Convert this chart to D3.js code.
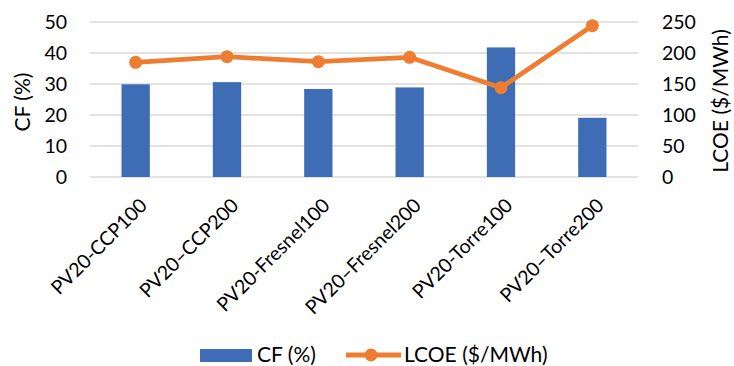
<!DOCTYPE html>
<html><head><meta charset="utf-8">
<script src="https://cdn.jsdelivr.net/npm/d3@7"></script>
<style>body{margin:0;background:#fff}svg{display:block}text{font-family:Lato,"Open Sans",sans-serif;fill:#000}</style>
</head><body><svg id="c" width="734" height="366"></svg>
<script>
const categories = ["PV20-CCP100","PV20\u2013CCP200","PV20-Fresnel100","PV20\u2013Fresnel200","PV20-Torre100","PV20\u2013Torre200"];
const cfValues = [29.9, 30.6, 28.4, 28.9, 41.8, 19.1];
const lcoeValues = [185, 194, 186, 193, 144, 244];
const leftTicks = [0,10,20,30,40,50];
const rightTicks = [0,50,100,150,200,250];

const svg = d3.select("#c");
const L=90, R=638, T=22, B=177;
const x = d3.scaleBand().domain(categories).range([L,R]).paddingInner(0.69).paddingOuter(0.345);
const yL = d3.scaleLinear().domain([0,50]).range([B,T]);
const yR = d3.scaleLinear().domain([0,250]).range([B,T]);
const xc = d => x(d)+x.bandwidth()/2;

svg.append("g").selectAll("line").data(leftTicks).join("line")
  .attr("x1",L).attr("x2",R).attr("y1",d=>yL(d)).attr("y2",d=>yL(d))
  .attr("stroke","#d9d9d9").attr("stroke-width",1.3);

svg.append("g").selectAll("rect").data(categories).join("rect")
  .attr("x",d=>x(d)).attr("width",x.bandwidth())
  .attr("y",(d,i)=>yL(cfValues[i])).attr("height",(d,i)=>B-yL(cfValues[i]))
  .attr("fill","#3e6db6");

const line = d3.line().x((d,i)=>xc(categories[i])).y(d=>yR(d));
svg.append("path").datum(lcoeValues).attr("d",line).attr("fill","none")
  .attr("stroke","#ed7d31").attr("stroke-width",4.8).attr("stroke-linejoin","round");
svg.append("g").selectAll("circle").data(lcoeValues).join("circle")
  .attr("cx",(d,i)=>xc(categories[i])).attr("cy",d=>yR(d)).attr("r",6.5).attr("fill","#ed7d31");

const fs = 19.5;
svg.append("g").selectAll("text").data(leftTicks).join("text")
  .attr("x",67).attr("y",d=>yL(d)).attr("dy","0.35em").attr("text-anchor","end")
  .attr("font-size",fs).text(d=>d);
svg.append("g").selectAll("text").data(rightTicks).join("text")
  .attr("x",662).attr("y",d=>yR(d)).attr("dy","0.35em").attr("text-anchor","start")
  .attr("font-size",fs).text(d=>d);

svg.append("text").attr("transform",`translate(30,${102}) rotate(-90)`)
  .attr("text-anchor","middle").attr("font-size",21).text("CF (%)");
svg.append("text").attr("transform",`translate(728,${101}) rotate(-90)`)
  .attr("text-anchor","middle").attr("font-size",21).text("LCOE ($/MWh)");

svg.append("g").selectAll("text").data(categories).join("text")
  .attr("transform",d=>`translate(${xc(d)+3},${197}) rotate(-45)`)
  .attr("text-anchor","end").attr("dy","0.7em").attr("font-size",19.5).text(d=>d);

// legend
const lg = svg.append("g");
lg.append("rect").attr("x",200).attr("y",349).attr("width",52).attr("height",13).attr("fill","#3e6db6");
lg.append("text").attr("x",257).attr("y",355).attr("dy","0.35em").attr("font-size",21).text("CF (%)");
lg.append("line").attr("x1",346).attr("x2",401).attr("y1",355).attr("y2",355).attr("stroke","#ed7d31").attr("stroke-width",4.8);
lg.append("circle").attr("cx",371).attr("cy",355).attr("r",6.5).attr("fill","#ed7d31");
lg.append("text").attr("x",404).attr("y",355).attr("dy","0.35em").attr("font-size",21).text("LCOE ($/MWh)");
</script></body></html>
